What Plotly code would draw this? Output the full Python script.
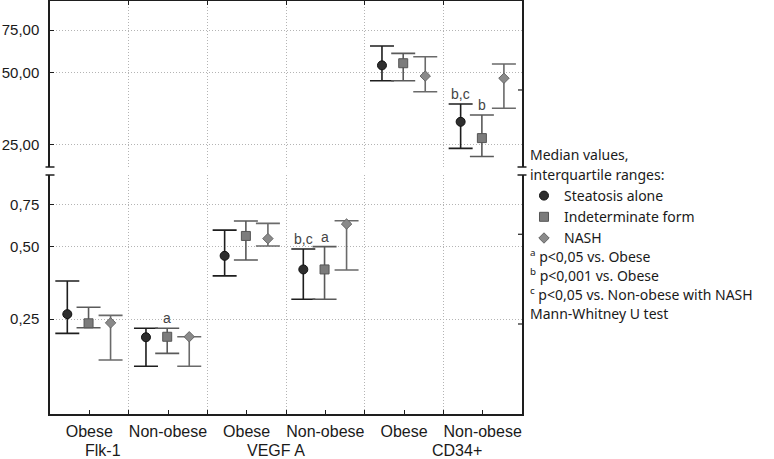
import math
import plotly.graph_objects as go

# ---------------- data ----------------
groups = ["Obese", "Non-obese", "Obese", "Non-obese", "Obese", "Non-obese"]
markers_names = ["Flk-1", "VEGF A", "CD34+"]
series_names = ["Steatosis alone", "Indeterminate form", "NASH"]

steatosis_median = [0.262, 0.210, 0.458, 0.402, 53.5, 31.2]
steatosis_q3 = [0.360, 0.229, 0.586, 0.489, 64.4, 37.0]
steatosis_q1 = [0.218, 0.159, 0.378, 0.302, 46.2, 24.2]

indeterminate_median = [0.240, 0.211, 0.554, 0.402, 54.6, 26.7]
indeterminate_q3 = [0.280, 0.229, 0.639, 0.500, 60.0, 33.3]
indeterminate_q1 = [0.230, 0.180, 0.440, 0.302, 46.2, 22.4]

nash_median = [0.241, 0.211, 0.540, 0.621, 48.3, 47.3]
nash_q3 = [0.259, 0.211, 0.625, 0.641, 58.1, 54.2]
nash_q1 = [0.169, 0.159, 0.503, 0.400, 41.6, 35.5]

upper_ticks = [25, 50, 75]
upper_ticktext = ["25,00", "50,00", "75,00"]
lower_ticks = [0.25, 0.5, 0.75]
lower_ticktext = ["0,25", "0,50", "0,75"]

# significance marks: (series index, group index, label)
sig_marks = [(1, 1, "a"), (0, 3, "b,c"), (1, 3, "a"), (0, 5, "b,c"), (1, 5, "b")]

footnotes = ["<sup>a</sup> p&lt;0,05 vs. Obese",
             "<sup>b</sup> p&lt;0,001 vs. Obese",
             "<sup>c</sup> p&lt;0,05 vs. Non-obese with NASH",
             "Mann-Whitney U test"]

# ---------------- styles ----------------
series_data = [
    (steatosis_median, steatosis_q3, steatosis_q1),
    (indeterminate_median, indeterminate_q3, indeterminate_q1),
    (nash_median, nash_q3, nash_q1),
]
offsets = [-0.28, -0.01, 0.27]
symbols = ["circle", "square", "diamond"]
msizes = [9, 9, 8]
mcolors = ["#2e2e2e", "#7c7c7c", "#8a8a8a"]
mline = ["#111111", "#555555", "#666666"]
ecolors = ["#1e1e1e", "#5a5a5a", "#6a6a6a"]

AX = "#1e1e1e"
GRID = "#b4b4b4"
GDASH = "1px,2px"
TICKFONT = dict(family="Liberation Sans, Arial, sans-serif", size=16, color="#1a1a1a")
YTICKFONT = dict(family="Liberation Sans, Arial, sans-serif", size=15, color="#1a1a1a")
LEGFONT = dict(family="Noto Sans, DejaVu Sans, sans-serif", size=14, color="#1a1a1a")

fig = go.Figure()

for s, (med, q3, q1) in enumerate(series_data):
    for upper in (False, True):
        idx = [i for i in range(len(groups)) if (med[i] > 1) == upper]
        fig.add_trace(go.Scatter(
            x=[i + offsets[s] for i in idx],
            y=[med[i] for i in idx],
            mode="markers",
            name=series_names[s],
            showlegend=not upper,
            xaxis="x2" if upper else "x",
            yaxis="y2" if upper else "y",
            marker=dict(symbol=symbols[s], size=msizes[s], color=mcolors[s],
                        line=dict(color=mline[s], width=1)),
            error_y=dict(type="data", symmetric=False,
                         array=[q3[i] - med[i] for i in idx],
                         arrayminus=[med[i] - q1[i] for i in idx],
                         color=ecolors[s], thickness=1.6, width=12),
        ))

annotations = []
for s, g, lab in sig_marks:
    med, q3, q1 = series_data[s]
    upper = med[g] > 1
    annotations.append(dict(
        x=g + offsets[s], y=math.log10(q3[g]), xref="x2" if upper else "x",
        yref="y2" if upper else "y", text=lab, showarrow=False,
        yanchor="bottom", yshift=0,
        font=dict(family="Liberation Sans, Arial, sans-serif", size=14, color="#444444")))

# second-level category labels
for xpos, name in zip([0.18, 2.37, 4.67], markers_names):
    annotations.append(dict(x=xpos, y=-(450 - 414) / 413, xref="x", yref="paper", text=name,
                            showarrow=False, xanchor="center", yanchor="middle",
                            font=TICKFONT))

# legend heading and footnotes
LX = 1.0127
for ypx, txt in [(154, "Median values,"), (175, "interquartile ranges:")]:
    annotations.append(dict(x=LX, y=(414 - ypx) / 413, xref="paper", yref="paper",
                            text=txt, showarrow=False, xanchor="left", yanchor="middle",
                            font=LEGFONT))
for ypx, txt in zip([256, 275, 294, 313], footnotes):
    annotations.append(dict(x=LX, y=(414 - ypx) / 413, xref="paper", yref="paper",
                            text=txt, showarrow=False, xanchor="left", yanchor="middle",
                            font=LEGFONT))

# axis breaks and right-side ticks
shapes = []
cap = 0.0095
for xp in (0, 1):
    shapes.append(dict(type="line", xref="paper", yref="y domain", x0=xp - cap, x1=xp + cap,
                       y0=1, y1=1, line=dict(color=AX, width=1.5)))
    shapes.append(dict(type="line", xref="paper", yref="y2 domain", x0=xp - cap, x1=xp + cap,
                       y0=0, y1=0, line=dict(color=AX, width=1.5)))
tk = 4 / 472
shapes.append(dict(type="line", xref="paper", yref="y2 domain", x0=1 - tk, x1=1,
                   y0=0.464, y1=0.464, line=dict(color=AX, width=1.2)))
for yy in (0.752, 0.3766):
    shapes.append(dict(type="line", xref="paper", yref="y domain", x0=1 - tk, x1=1,
                       y0=yy, y1=yy, line=dict(color=AX, width=1.2)))

bounds = [i + 0.5 for i in range(len(groups) - 1)]

fig.update_layout(
    width=774, height=459,
    margin=dict(l=50, r=252, t=1, b=45, autoexpand=False),
    paper_bgcolor="white", plot_bgcolor="white",
    showlegend=True,
    legend=dict(x=LX - 4 / 472, xanchor="left", y=(414 - 180) / 413, yanchor="top",
                font=LEGFONT, bgcolor="rgba(0,0,0,0)", itemwidth=30,
                tracegroupgap=0),
    xaxis=dict(domain=[0, 1], range=[-0.5, 5.5], anchor="y", automargin=False,
               tickmode="array", tickvals=list(range(len(groups))), ticktext=groups,
               ticks="inside", ticklen=4, tickcolor=AX, tickwidth=1,
               showline=True, linecolor=AX, linewidth=1.5, showgrid=False,
               zeroline=False, tickfont=TICKFONT, ticklabelstandoff=2,
               minor=dict(tickvals=bounds, ticks="inside", ticklen=4, tickcolor=AX,
                          showgrid=True, gridcolor=GRID, griddash=GDASH, gridwidth=1)),
    xaxis2=dict(domain=[0, 1], range=[-0.5, 5.5], anchor="y2", matches="x", side="top",
                automargin=False,
                tickmode="array", tickvals=bounds, showticklabels=False,
                ticks="inside", ticklen=4, tickcolor=AX,
                showline=True, linecolor=AX, linewidth=1.5,
                showgrid=True, gridcolor=GRID, griddash=GDASH, gridwidth=1, zeroline=False),
    yaxis=dict(type="log", domain=[0, 239 / 413], range=[-0.997, -0.003], anchor="x",
               automargin=False,
               tickmode="array", tickvals=lower_ticks, ticktext=lower_ticktext,
               ticks="inside", ticklen=4, tickcolor=AX,
               showline=True, mirror=True, linecolor=AX, linewidth=1.5,
               showgrid=True, gridcolor=GRID, griddash=GDASH, gridwidth=1,
               zeroline=False, tickfont=YTICKFONT, ticklabelstandoff=6),
    yaxis2=dict(type="log", domain=[1 - 166 / 413, 1], range=[1.3066, 1.9954], anchor="x2",
                automargin=False,
                tickmode="array", tickvals=upper_ticks, ticktext=upper_ticktext,
                ticks="inside", ticklen=4, tickcolor=AX,
                showline=True, mirror=True, linecolor=AX, linewidth=1.5,
                showgrid=True, gridcolor=GRID, griddash=GDASH, gridwidth=1,
                zeroline=False, tickfont=YTICKFONT, ticklabelstandoff=6),
    annotations=annotations,
    shapes=shapes,
)

fig.write_html("out.html", config={"displayModeBar": False},
               post_script="document.body.style.margin='0';")
